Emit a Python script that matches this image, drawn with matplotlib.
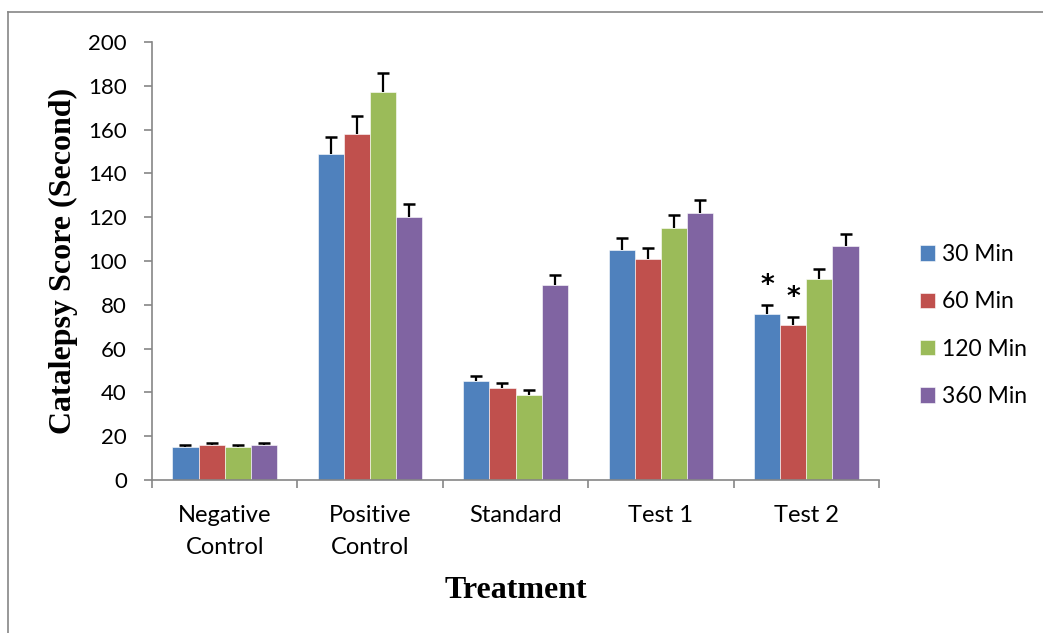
import matplotlib
matplotlib.use("Agg")
import matplotlib.pyplot as plt
from matplotlib.lines import Line2D
import numpy as np

categories = ["Negative\nControl", "Positive\nControl", "Standard", "Test 1", "Test 2"]
series_names = ["30 Min", "60 Min", "120 Min", "360 Min"]
vals_30 = [15, 149, 45, 105, 76]
vals_60 = [16, 158, 42, 101, 71]
vals_120 = [15, 177, 39, 115, 92]
vals_360 = [16, 120, 89, 122, 107]
err_30 = [1, 7.5, 2.3, 5.3, 4]
err_60 = [1, 8, 2.3, 5, 3.6]
err_120 = [1, 9, 2, 6, 4.5]
err_360 = [1, 6, 4.7, 6, 5.5]
# significance markers: (category index, series index)
stars = [(4, 0), (4, 1)]
yticks = list(range(0, 201, 20))

colors = ["#4F81BD", "#C0504D", "#9BBB59", "#8064A2"]
values = [vals_30, vals_60, vals_120, vals_360]
errors = [err_30, err_60, err_120, err_360]

W, H = 1043, 633
fig = plt.figure(figsize=(W / 100, H / 100), dpi=100)
ax = fig.add_axes([152 / W, 1 - 480 / H, (879 - 152) / W, (480 - 42) / H])

tick_font = "Lato"
n = len(series_names)
group_w = 0.72
bw = group_w / n
x = np.arange(len(categories)) + 0.5
for i in range(n):
    xpos = x - group_w / 2 + bw * (i + 0.5)
    vals = np.array(values[i], dtype=float)
    errs = np.array(errors[i], dtype=float)
    ax.bar(xpos, vals, width=bw, color=colors[i], edgecolor="white",
           linewidth=0.4, label=series_names[i], zorder=2)
    ax.errorbar(xpos, vals, yerr=[np.zeros(len(errs)), errs],
                fmt="none", ecolor="black", elinewidth=1.6, capsize=0,
                zorder=3)
    ax.plot(xpos, vals + errs, linestyle="none", marker="_", markersize=8,
            markeredgewidth=1.8, color="black", zorder=3)

for ci, si in stars:
    xpos = x[ci] - group_w / 2 + bw * (si + 0.5)
    top = values[si][ci] + errors[si][ci]
    ax.text(xpos, top + 8.5, "*", ha="center", va="center",
            fontsize=19, fontweight="bold", family="DejaVu Sans")

ax.set_xlim(0, len(categories))
ax.set_ylim(0, 200)
ax.set_yticks(yticks)
ax.set_yticklabels([str(t) for t in yticks], family=tick_font, fontsize=16)
ax.set_xticks(np.arange(len(categories) + 1))
ax.set_xticklabels([])
ax.set_xticks(x, minor=True)
ax.set_xticklabels(categories, minor=True, family=tick_font, fontsize=17,
                   linespacing=1.65)
ax.tick_params(axis="x", which="minor", length=0, pad=18)
ax.tick_params(axis="x", which="major", length=6, color="#868686", width=1.2)
ax.tick_params(axis="y", length=6, color="#868686", width=1.2, pad=12)

for s in ["top", "right"]:
    ax.spines[s].set_visible(False)
for s in ["left", "bottom"]:
    ax.spines[s].set_color("#868686")
    ax.spines[s].set_linewidth(1.2)

ax.set_ylabel("Catalepsy Score (Second)", family="Liberation Serif",
              fontweight="bold", fontsize=23)
ax.yaxis.set_label_coords(-0.102, 0.5)
ax.set_xlabel("Treatment", family="Liberation Serif", fontweight="bold",
              fontsize=23)
ax.xaxis.set_label_coords(0.5007, -0.219)

handles, labels = ax.get_legend_handles_labels()
leg = fig.legend(handles, labels, loc="center left",
                 bbox_to_anchor=(920 / W, 1 - 325.5 / H),
                 frameon=False, prop={"family": tick_font, "size": 16.5},
                 handlelength=0.65, handleheight=0.65, handletextpad=0.3,
                 labelspacing=1.15, borderpad=0, borderaxespad=0)

fig.add_artist(Line2D([8 / W, 8 / W], [1 - 12 / H, 0], color="#868686",
                      linewidth=1.2, transform=fig.transFigure))
fig.add_artist(Line2D([8 / W, 1], [1 - 12 / H, 1 - 12 / H], color="#868686",
                      linewidth=1.2, transform=fig.transFigure))

fig.savefig("out.png", dpi=100)
